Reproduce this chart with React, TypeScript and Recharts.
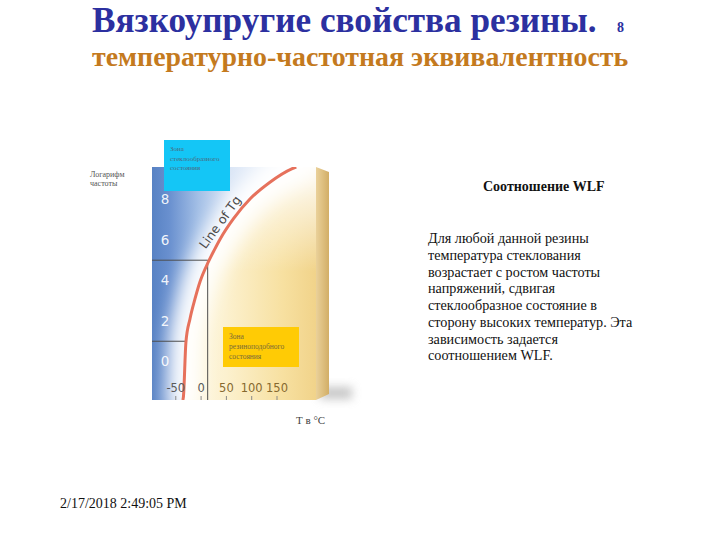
import React from 'react';
import { ComposedChart, Area, Line, XAxis, YAxis, ReferenceLine, ReferenceDot } from 'recharts';

// ---- data ----
const tempTicks = [-50, 0, 50, 100, 150];
const logFreqTicks = [0, 2, 4, 6, 8];
const tgTemperature = [-34, -33, -28, -20, -10, 0, 16, 28, 40, 66, 99, 138, 181, 190];
const tgLogFrequency = [-1.9, -1.76, 0.95, 2.1, 3.1, 3.95, 4.9, 5.5, 6.06, 7.05, 8.03, 8.85, 9.51, 9.6];
const tempDomain = [-95, 229];
const freqDomain = [-1.9, 9.6];
const guideHigh = { t: 15, f: 5 };
const guideLow = { t: -28, f: 1 };
const tgLabelPos = { t: 39.5, f: 6.88 };

const titleText = 'Вязкоупругие свойства резины.';
const slideNumber = '8';
const subtitleText = 'температурно-частотная эквивалентность';
const yAxisTitle = ['Логарифм', 'частоты'];
const xAxisTitle = 'Т в °С';
const glassZone = ['Зона', 'стеклообразного', 'состояния'];
const rubberZone = ['Зона', 'резиноподобного', 'состояния'];
const wlfTitle = 'Соотношение WLF';
const wlfLines = [
  'Для любой данной резины',
  'температура стеклования',
  'возрастает с ростом частоты',
  'напряжений, сдвигая',
  'стеклообразное состояние в',
  'сторону высоких температур. Эта',
  'зависимость задается',
  'соотношением WLF.',
];
const dateText = '2/17/2018 2:49:05 PM';

// ---- tables built from the arrays ----
const tgData = tgTemperature.map((t, i) => ({ t, f: tgLogFrequency[i] }));
const glassData = [
  { t: tempDomain[0], band: [freqDomain[0], freqDomain[1]] },
  ...tgData.filter((d) => d.f <= freqDomain[1]).map((d) => ({ t: d.t, band: [d.f, freqDomain[1]] })),
];
const bgData = tempDomain.map((t) => ({ t, band: [freqDomain[0], freqDomain[1]] }));

const SERIF = '"Liberation Serif", "Times New Roman", serif';
const SANS = '"DejaVu Sans", Verdana, sans-serif';

const PLOT_MARGIN = { top: 167, right: 404, bottom: 140, left: 152 };
const AXIS_MARGIN = { top: 167, right: 404, bottom: 120, left: 132 };

const XTick = (props: any) => {
  const { x, y, payload } = props;
  const v = payload.value;
  return (
    <g>
      <text x={x + 1} y={y - 8} textAnchor="middle" fontSize={11.5} fontFamily={SANS} fill={v > 0 ? '#86692f' : '#5a5a5a'}>
        {v}
      </text>
      <line x1={x + 1} x2={x + 1} y1={y - 4} y2={y} stroke="#8a8a8a" strokeWidth={1} />
    </g>
  );
};

const YTick = (props: any) => {
  const { x, y, payload } = props;
  return (
    <text x={x + 13} y={y} dy="0.35em" textAnchor="middle" fontSize={13.5} fontFamily={SANS} fill="#ffffff" fillOpacity={0.92}>
      {payload.value}
    </text>
  );
};

const TgLabel = (props: any) => {
  const vb = props.viewBox || {};
  const cx = (vb.x || 0) + (vb.width || 0) / 2;
  const cy = (vb.y || 0) + (vb.height || 0) / 2;
  return (
    <text
      x={cx}
      y={cy}
      dy="0.35em"
      textAnchor="middle"
      fontSize={12.5}
      fontFamily={SANS}
      fill="#4a4a4a"
      transform={`rotate(-54 ${cx} ${cy})`}
    >
      Line of Tg
    </text>
  );
};

export default function App() {
  return (
    <div style={{ position: 'absolute', left: 0, top: 0, width: 720, height: 540, background: '#ffffff', overflow: 'hidden' }}>
      {/* box side and shadow (decoration behind the chart) */}
      <svg width={720} height={540} style={{ position: 'absolute', left: 0, top: 0 }}>
        <defs>
          <linearGradient id="sideGrad" x1="0" y1="0" x2="1" y2="0">
            <stop offset="0%" stopColor="#ead19a" />
            <stop offset="100%" stopColor="#d2ae66" />
          </linearGradient>
          <filter id="shadowBlur" x="-50%" y="-100%" width="200%" height="300%">
            <feGaussianBlur stdDeviation="5" />
          </filter>
        </defs>
        <rect x={320} y={387} width={32} height={12} fill="#a0a0a0" opacity={0.6} filter="url(#shadowBlur)" />
        <polygon points="316,167 329,172 329,394 316,400" fill="url(#sideGrad)" />
      </svg>

      {/* plot: zones, Tg curve, guides */}
      <div style={{ position: 'absolute', left: 0, top: 0 }}>
        <ComposedChart width={720} height={540} margin={PLOT_MARGIN}>
          <defs>
            <linearGradient id="rubberGrad" x1="0" y1="0" x2="1" y2="0">
              <stop offset="0%" stopColor="#fffdf5" />
              <stop offset="45%" stopColor="#fcf1cf" />
              <stop offset="80%" stopColor="#f7e0a0" />
              <stop offset="100%" stopColor="#f1d38a" />
            </linearGradient>
            <linearGradient id="topFade" x1="0" y1="0" x2="0" y2="1">
              <stop offset="0%" stopColor="#ffffff" stopOpacity={0.95} />
              <stop offset="45%" stopColor="#ffffff" stopOpacity={0} />
            </linearGradient>
            <linearGradient id="glassGrad" x1="0" y1="0" x2="1" y2="0">
              <stop offset="0%" stopColor="#5882c4" />
              <stop offset="12%" stopColor="#6990cf" />
              <stop offset="32%" stopColor="#a3bfe6" />
              <stop offset="55%" stopColor="#dbe6f6" />
              <stop offset="100%" stopColor="#ffffff" />
            </linearGradient>
            <filter id="glow" x="-50%" y="-50%" width="200%" height="200%">
              <feGaussianBlur stdDeviation="9" />
            </filter>
          </defs>
          <XAxis type="number" dataKey="t" domain={tempDomain} allowDataOverflow hide />
          <YAxis type="number" domain={freqDomain} allowDataOverflow hide />
          <Area data={bgData} dataKey="band" type="linear" stroke="none" fill="url(#rubberGrad)" fillOpacity={1} isAnimationActive={false} dot={false} activeDot={false} />
          <Area data={bgData} dataKey="band" type="linear" stroke="none" fill="url(#topFade)" fillOpacity={1} isAnimationActive={false} dot={false} activeDot={false} />
          <Area data={glassData} dataKey="band" type="monotone" stroke="none" fill="url(#glassGrad)" fillOpacity={1} isAnimationActive={false} dot={false} activeDot={false} />
          <Line data={tgData} dataKey="f" type="monotone" stroke="#ffffff" strokeOpacity={0.95} strokeWidth={34} strokeLinecap="round" filter="url(#glow)" dot={false} activeDot={false} isAnimationActive={false} />
          <ReferenceLine segment={[{ x: tempDomain[0], y: guideHigh.f }, { x: guideHigh.t, y: guideHigh.f }]} stroke="#4d4d4d" strokeWidth={1} />
          <ReferenceLine segment={[{ x: guideHigh.t, y: guideHigh.f }, { x: guideHigh.t, y: freqDomain[0] }]} stroke="#4d4d4d" strokeWidth={1} />
          <ReferenceLine segment={[{ x: tempDomain[0], y: guideLow.f }, { x: guideLow.t, y: guideLow.f }]} stroke="#4d4d4d" strokeWidth={1} />
          <Line data={tgData} dataKey="f" type="monotone" stroke="#e6715c" strokeWidth={3} dot={false} activeDot={false} isAnimationActive={false} />
          <ReferenceDot x={tgLabelPos.t} y={tgLabelPos.f} r={1} fill="none" stroke="none" label={TgLabel} />
        </ComposedChart>
      </div>

      {/* axes drawn on top of the plot with the same scales */}
      <div style={{ position: 'absolute', left: 0, top: 0, pointerEvents: 'none' }}>
        <ComposedChart width={720} height={540} margin={AXIS_MARGIN} data={tgData}>
          <XAxis
            type="number"
            dataKey="t"
            domain={tempDomain}
            ticks={tempTicks}
            interval={0}
            allowDataOverflow
            height={20}
            tickSize={0}
            tickMargin={0}
            axisLine={false}
            tickLine={false}
            tick={<XTick />}
          />
          <YAxis
            type="number"
            domain={freqDomain}
            ticks={logFreqTicks}
            interval={0}
            allowDataOverflow
            width={20}
            tickSize={0}
            tickMargin={0}
            axisLine={false}
            tickLine={false}
            tick={<YTick />}
          />
          <Line dataKey="f" stroke="none" dot={false} activeDot={false} isAnimationActive={false} />
        </ComposedChart>
      </div>

      {/* slide texts and annotation boxes */}
      <svg width={720} height={540} style={{ position: 'absolute', left: 0, top: 0, pointerEvents: 'none' }}>
        <text x={92} y={32} fontFamily={SERIF} fontWeight="bold" fontSize={35.2} fill="#2c30a0">
          {titleText}
        </text>
        <text x={617} y={32} fontFamily={SERIF} fontWeight="bold" fontSize={14} fill="#2c30a0">
          {slideNumber}
        </text>
        <text x={92} y={66} fontFamily={SERIF} fontWeight="bold" fontSize={27.9} fill="#c47a1e">
          {subtitleText}
        </text>

        {yAxisTitle.map((s, i) => (
          <text key={s} x={90} y={177 + i * 9} fontFamily={SERIF} fontSize={8} fill="#555555">
            {s}
          </text>
        ))}

        <rect x={164} y={140} width={66} height={51} fill="#14c6f6" />
        {glassZone.map((s, i) => (
          <text key={s} x={170} y={151 + i * 9.5} fontFamily={SERIF} fontSize={7} fill="#4a6a80">
            {s}
          </text>
        ))}

        <rect x={223} y={327} width={76} height={40} fill="#ffcb05" />
        {rubberZone.map((s, i) => (
          <text key={s} x={229} y={339 + i * 10} fontFamily={SERIF} fontSize={7.5} fill="#7a6a3a">
            {s}
          </text>
        ))}

        <text x={296} y={424} fontFamily={SERIF} fontSize={11} fill="#444444">
          {xAxisTitle}
        </text>

        <text x={483} y={191} fontFamily={SERIF} fontWeight="bold" fontSize={14} fill="#111111">
          {wlfTitle}
        </text>
        {wlfLines.map((s, i) => (
          <text key={s} x={428} y={243 + i * 16.75} fontFamily={SERIF} fontSize={14.2} fill="#111111">
            {s}
          </text>
        ))}

        <text x={60} y={508} fontFamily={SERIF} fontSize={14} fill="#111111">
          {dateText}
        </text>
      </svg>
    </div>
  );
}
